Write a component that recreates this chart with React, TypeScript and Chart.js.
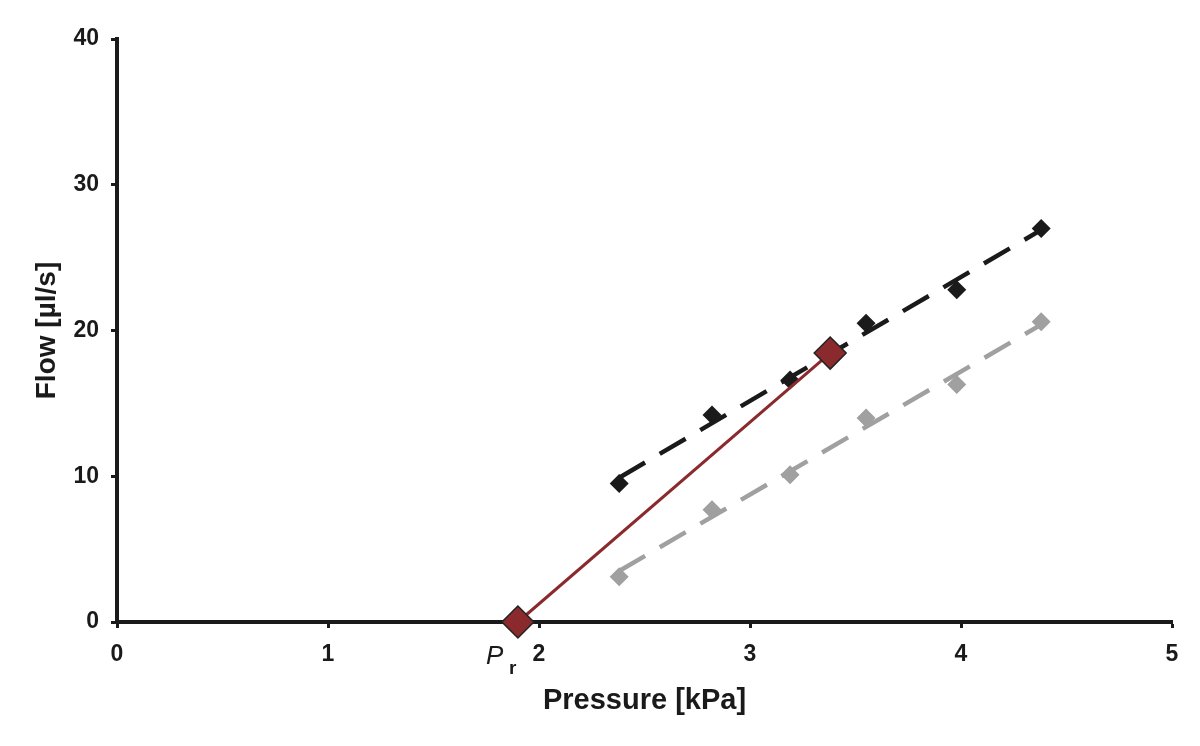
import React, { useEffect, useRef } from "react";
import { Chart, registerables } from "chart.js";

Chart.register(...registerables);

// Measured data (Pressure kPa vs Flow µl/s)
const pressure = [2.38, 2.82, 3.19, 3.55, 3.98, 4.38];
const flowBlack = [9.5, 14.2, 16.6, 20.5, 22.8, 27.0];
const flowGray = [3.1, 7.7, 10.1, 14.0, 16.3, 20.6];

// Trend line end points
const trendX = [2.38, 4.38];
const trendBlackY = [9.9, 26.9];
const trendGrayY = [3.5, 20.4];

// Red line: from Pr to a point on the black trend
const redX = [1.9, 3.38];
const redY = [0, 18.45];

// Axis ticks
const xTicks = [0, 1, 2, 3, 4, 5];
const yTicks = [0, 10, 20, 30, 40];

const FONT = '"Liberation Sans", Arial, sans-serif';
const INK = "#1a1a1a";

const toPts = (xs: number[], ys: number[]) => xs.map((x, i) => ({ x, y: ys[i] }));

export default function App() {
  const ref = useRef<HTMLCanvasElement | null>(null);

  useEffect(() => {
    if (!ref.current) return;
    const prLabel = {
      id: "prLabel",
      afterDraw(chart: any) {
        const ctx = chart.ctx;
        const xs = chart.scales.x;
        const px = xs.getPixelForValue(redX[0]);
        ctx.save();
        ctx.fillStyle = INK;
        ctx.textBaseline = "alphabetic";
        ctx.textAlign = "left";
        ctx.font = `italic 26px ${FONT}`;
        ctx.fillText("P", px - 32, 664);
        ctx.font = `bold 19px ${FONT}`;
        ctx.fillText("r", px - 9, 674);
        ctx.restore();
      },
    };

    const chart = new Chart(ref.current, {
      type: "scatter",
      data: {
        datasets: [
          {
            data: toPts(redX, redY),
            showLine: true,
            borderColor: "#8a2a2c",
            borderWidth: 3,
            pointStyle: "rectRot",
            pointRadius: 16,
            pointBackgroundColor: "#8a2a2c",
            pointBorderColor: "#222",
            pointBorderWidth: 1.5,
            clip: false,
          } as any,
          {
            data: toPts(trendX, trendBlackY),
            showLine: true,
            borderColor: INK,
            borderWidth: 4.5,
            borderDash: [30, 17],
            pointRadius: 0,
            clip: false,
          } as any,
          {
            data: toPts(trendX, trendGrayY),
            showLine: true,
            borderColor: "#a0a0a0",
            borderWidth: 4.5,
            borderDash: [30, 17],
            pointRadius: 0,
            clip: false,
          } as any,
          {
            data: toPts(pressure, flowBlack),
            showLine: false,
            pointStyle: "rectRot",
            pointRadius: 9.5,
            pointBackgroundColor: INK,
            pointBorderColor: INK,
            pointBorderWidth: 0,
            clip: false,
          } as any,
          {
            data: toPts(pressure, flowGray),
            showLine: false,
            pointStyle: "rectRot",
            pointRadius: 9.5,
            pointBackgroundColor: "#a0a0a0",
            pointBorderColor: "#a0a0a0",
            pointBorderWidth: 0,
            clip: false,
          } as any,
        ],
      },
      options: {
        responsive: false,
        animation: false,
        devicePixelRatio: 1,
        layout: { padding: { top: 39, right: 28, left: 0, bottom: 0 } },
        plugins: { legend: { display: false }, tooltip: { enabled: false } },
        scales: {
          x: {
            type: "linear",
            min: 0,
            max: 5,
            afterBuildTicks: (s: any) => {
              s.ticks = xTicks.map((v) => ({ value: v }));
            },
            afterFit: (s: any) => {
              s.height = 124;
            },
            ticks: {
              color: INK,
              padding: 13,
              font: { family: FONT, size: 23, weight: "bold" },
            },
            grid: {
              drawOnChartArea: false,
              drawTicks: true,
              tickLength: 6,
              tickWidth: 3,
              tickColor: INK,
            },
            border: { color: INK, width: 4 },
            title: {
              display: true,
              text: "Pressure [kPa]",
              color: INK,
              font: { family: FONT, size: 29, weight: "bold" },
              padding: { top: 0, bottom: 28 },
            },
          },
          y: {
            type: "linear",
            min: 0,
            max: 40,
            afterBuildTicks: (s: any) => {
              s.ticks = yTicks.map((v) => ({ value: v }));
            },
            afterFit: (s: any) => {
              s.width = 117;
            },
            ticks: {
              color: INK,
              padding: 12,
              font: { family: FONT, size: 23, weight: "bold" },
            },
            grid: {
              drawOnChartArea: false,
              drawTicks: true,
              tickLength: 6,
              tickWidth: 3,
              tickColor: INK,
            },
            border: { color: INK, width: 4 },
            title: {
              display: true,
              text: "Flow [µl/s]",
              color: INK,
              font: { family: FONT, size: 28, weight: "bold" },
              padding: { top: 30, bottom: 0 },
            },
          },
        },
      } as any,
      plugins: [prLabel],
    });
    return () => chart.destroy();
  }, []);

  return (
    <div style={{ position: "absolute", left: 0, top: 0, width: 1200, height: 746, background: "#fff" }}>
      <canvas ref={ref} width={1200} height={746} />
    </div>
  );
}
